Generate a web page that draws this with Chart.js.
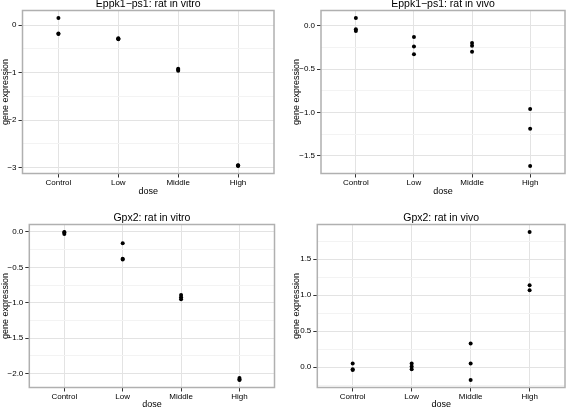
<!DOCTYPE html>
<html><head><meta charset="utf-8">
<script src="https://cdn.jsdelivr.net/npm/chart.js@4.4.1/dist/chart.umd.min.js"></script>
<style>
html,body{margin:0;padding:0;background:#fff;}
body{width:567px;height:408px;position:relative;overflow:hidden;}
canvas{position:absolute;}
</style></head><body>
<canvas id="p1" width="283" height="214" style="left:0px;top:-10px"></canvas>
<canvas id="p2" width="284" height="214" style="left:283px;top:-10px"></canvas>
<canvas id="p3" width="283" height="214" style="left:0px;top:204px"></canvas>
<canvas id="p4" width="284" height="214" style="left:283px;top:204px"></canvas>
<script>
// ---- data ----
const doses = ["Control", "Low", "Middle", "High"];

// values per dose (Control, Low, Middle, High)
const eppk1InVitro = [[0.15, -0.18, -0.19], [-0.28, -0.29, -0.30], [-0.92, -0.94, -0.96], [-2.95, -2.96, -2.97]];
const eppk1InVivo  = [[0.09, -0.04, -0.06], [-0.13, -0.24, -0.33], [-0.20, -0.23, -0.30], [-0.96, -1.19, -1.62]];
const gpx2InVitro  = [[0.00, -0.01, -0.03], [-0.16, -0.38, -0.39], [-0.89, -0.92, -0.95], [-2.06, -2.08, -2.09]];
const gpx2InVivo   = [[0.05, -0.03, -0.04], [0.05, 0.01, -0.03], [0.33, 0.05, -0.18], [1.88, 1.14, 1.07]];

// y tick values and labels
const eppk1InVitroMajor = [0, -1, -2, -3];
const eppk1InVitroLabels = ["0", "\u22121", "\u22122", "\u22123"];
const eppk1InVitroMinor = [-0.5, -1.5, -2.5];
const eppk1InVivoMajor = [0, -0.5, -1, -1.5];
const eppk1InVivoLabels = ["0.0", "\u22120.5", "\u22121.0", "\u22121.5"];
const eppk1InVivoMinor = [-0.25, -0.75, -1.25];
const gpx2InVitroMajor = [0, -0.5, -1, -1.5, -2];
const gpx2InVitroLabels = ["0.0", "\u22120.5", "\u22121.0", "\u22121.5", "\u22122.0"];
const gpx2InVitroMinor = [-0.25, -0.75, -1.25, -1.75];
const gpx2InVivoMajor = [0, 0.5, 1, 1.5];
const gpx2InVivoLabels = ["0.0", "0.5", "1.0", "1.5"];
const gpx2InVivoMinor = [-0.25, 0.25, 0.75, 1.25, 1.75];

const titles = ["Eppk1\u2212ps1: rat in vitro", "Eppk1\u2212ps1: rat in vivo", "Gpx2: rat in vitro", "Gpx2: rat in vivo"];

// ---- layout / style ----
const FONT = "'Liberation Sans', Arial, Helvetica, sans-serif";
const panels = [
  {id: 'p1', title: titles[0], values: eppk1InVitro, major: eppk1InVitroMajor, labels: eppk1InVitroLabels, minor: eppk1InVitroMinor, padLeft: 0, yWidth: 22.5, padRight: 9, xTitlePad: 7},
  {id: 'p2', title: titles[1], values: eppk1InVivo, major: eppk1InVivoMajor, labels: eppk1InVivoLabels, minor: eppk1InVivoMinor, padLeft: 8, yWidth: 30, padRight: 1, xTitlePad: 7},
  {id: 'p3', title: titles[2], values: gpx2InVitro, major: gpx2InVitroMajor, labels: gpx2InVitroLabels, minor: gpx2InVitroMinor, padLeft: 0, yWidth: 29.3, padRight: 8.5, xTitlePad: 8.5},
  {id: 'p4', title: titles[3], values: gpx2InVivo, major: gpx2InVivoMajor, labels: gpx2InVivoLabels, minor: gpx2InVivoMinor, padLeft: 8, yWidth: 26.3, padRight: 1, xTitlePad: 8.5}
];

const frameAndTitle = {
  id: 'frameAndTitle',
  afterDraw(chart, args, opts) {
    const {ctx, chartArea: a} = chart;
    ctx.save();
    ctx.strokeStyle = '#b0b0b0';
    ctx.lineWidth = 1.5;
    ctx.strokeRect(a.left, a.top, a.right - a.left, a.bottom - a.top);
    ctx.fillStyle = '#000';
    ctx.font = '10.5px ' + FONT;
    ctx.textAlign = 'center';
    ctx.textBaseline = 'alphabetic';
    ctx.fillText(opts.text, (a.left + a.right) / 2, a.top - 3.2);
    ctx.restore();
  }
};

function isIn(list, v) { return list.some(m => Math.abs(m - v) < 1e-9); }

panels.forEach(p => {
  const flat = p.values.flat();
  const lo = Math.min(...flat), hi = Math.max(...flat);
  const ext = (hi - lo) * 0.05;
  const pts = [];
  p.values.forEach((arr, i) => arr.forEach(v => pts.push({x: i + 1, y: v})));
  const allY = p.major.concat(p.minor).sort((a, b) => a - b);

  new Chart(document.getElementById(p.id), {
    type: 'scatter',
    data: {datasets: [{data: pts, backgroundColor: '#000', borderWidth: 0, pointRadius: 2, pointHoverRadius: 2}]},
    plugins: [frameAndTitle],
    options: {
      responsive: false,
      animation: false,
      devicePixelRatio: 1,
      layout: {padding: {left: p.padLeft, right: p.padRight, top: 20.5, bottom: 0}},
      plugins: {legend: {display: false}, tooltip: {enabled: false}, frameAndTitle: {text: p.title}},
      scales: {
        x: {
          type: 'linear', position: 'bottom', min: 0.4, max: 4.6,
          afterBuildTicks: s => { s.ticks = doses.map((d, i) => ({value: i + 1})); },
          afterFit: s => { s.height = 30.5; },
          ticks: {callback: v => doses[Math.round(v) - 1], font: {family: FONT, size: 8}, color: '#000', padding: 0, maxRotation: 0, minRotation: 0, autoSkip: false},
          grid: {color: '#e3e3e3', lineWidth: 1, tickColor: '#333', tickLength: 4, tickWidth: 1},
          border: {display: false},
          title: {display: true, text: 'dose', font: {family: FONT, size: 9}, color: '#000', padding: {top: 0, bottom: p.xTitlePad}}
        },
        y: {
          type: 'linear', position: 'left', min: lo - ext, max: hi + ext,
          afterBuildTicks: s => { s.ticks = allY.map(v => ({value: v})); },
          afterFit: s => { s.width = p.yWidth; },
          ticks: {callback: v => { const k = p.major.findIndex(m => Math.abs(m - v) < 1e-9); return k >= 0 ? p.labels[k] : ''; },
                  font: {family: FONT, size: 8}, color: '#000', padding: 2, autoSkip: false},
          grid: {
            color: c => isIn(p.major, c.tick.value) ? '#e3e3e3' : '#f3f3f3',
            lineWidth: 1,
            tickColor: c => isIn(p.major, c.tick.value) ? '#333' : 'rgba(0,0,0,0)',
            tickLength: 4, tickWidth: 1
          },
          border: {display: false},
          title: {display: true, text: 'gene expression', font: {family: FONT, size: 9}, color: '#000', padding: {top: 0, bottom: 0}}
        }
      }
    }
  });
});
</script>
</body></html>
